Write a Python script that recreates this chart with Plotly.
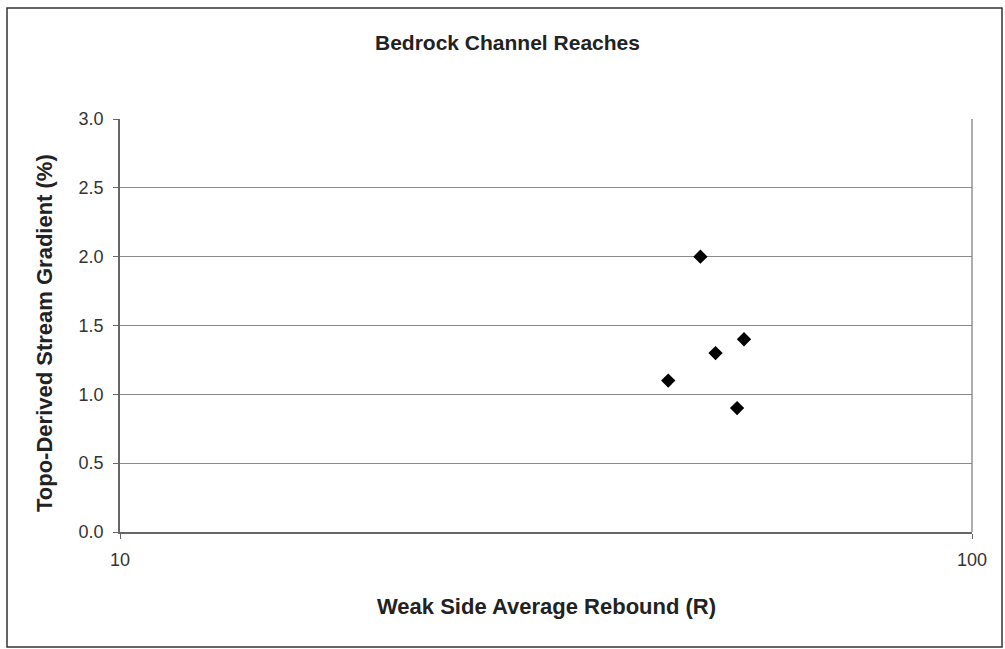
import plotly.graph_objects as go

# Weak-side average rebound (R) vs topo-derived stream gradient (%)
rebound = [48, 54, 50, 44, 53]
gradient = [2.0, 1.4, 1.3, 1.1, 0.9]

y_ticks = [0.0, 0.5, 1.0, 1.5, 2.0, 2.5, 3.0]
x_ticks = [10, 100]

FONT = "Liberation Sans, Arial, sans-serif"
W, H = 1005, 649
L, R, T, B = 120, 33, 119, 117
pw, ph = W - L - R, H - T - B


def px_to_paper_x(px):
    return (px - L) / pw


def px_to_paper_y(py):
    return (H - B - py) / ph


fig = go.Figure()
fig.add_trace(go.Scatter(
    x=rebound, y=gradient, mode="markers",
    marker=dict(symbol="diamond", size=11, color="black"),
    showlegend=False,
))

fig.update_layout(
    width=W, height=H,
    margin=dict(l=L, r=R, t=T, b=B),
    paper_bgcolor="white", plot_bgcolor="white",
    font=dict(family=FONT, size=18, color="#222"),
    xaxis=dict(
        type="log", range=[1, 2],
        tickvals=x_ticks, ticktext=[str(v) for v in x_ticks],
        showgrid=False, zeroline=False,
        showline=True, linecolor="#666", linewidth=1.5,
        ticks="outside", ticklen=5, tickcolor="#666",
        ticklabelstandoff=6,
        tickfont=dict(size=18, color="#333"),
    ),
    yaxis=dict(
        range=[0, 3], tickvals=y_ticks,
        ticktext=[f"{v:.1f}" for v in y_ticks],
        showgrid=True, gridcolor="#8a8a8a", gridwidth=1,
        zeroline=False,
        showline=True, linecolor="#666", linewidth=1.5,
        ticks="outside", ticklen=5, tickcolor="#666",
        ticklabelstandoff=6,
        tickfont=dict(size=18, color="#333"),
    ),
)

# right edge of the plot area
fig.add_shape(type="line", xref="paper", yref="paper",
              x0=1, x1=1, y0=0, y1=1, line=dict(color="#777", width=1.2))

# outer chart frame
fig.add_shape(type="rect", xref="paper", yref="paper",
              x0=px_to_paper_x(7), x1=px_to_paper_x(1002),
              y0=px_to_paper_y(647), y1=px_to_paper_y(8),
              line=dict(color="#333", width=1.5))

label_style = dict(xref="paper", yref="paper", showarrow=False,
                   xanchor="center", yanchor="middle")

fig.add_annotation(text="<b>Bedrock Channel Reaches</b>",
                   x=px_to_paper_x(507), y=px_to_paper_y(42),
                   font=dict(size=21, color="#222"), **label_style)
fig.add_annotation(text="<b>Weak Side Average Rebound (R)</b>",
                   x=px_to_paper_x(546), y=px_to_paper_y(606),
                   font=dict(size=22, color="#222"), **label_style)
fig.add_annotation(text="<b>Topo-Derived Stream Gradient (%)</b>",
                   x=px_to_paper_x(44), y=px_to_paper_y(333),
                   textangle=-90, font=dict(size=22, color="#222"), **label_style)

fig.write_html("out.html")
